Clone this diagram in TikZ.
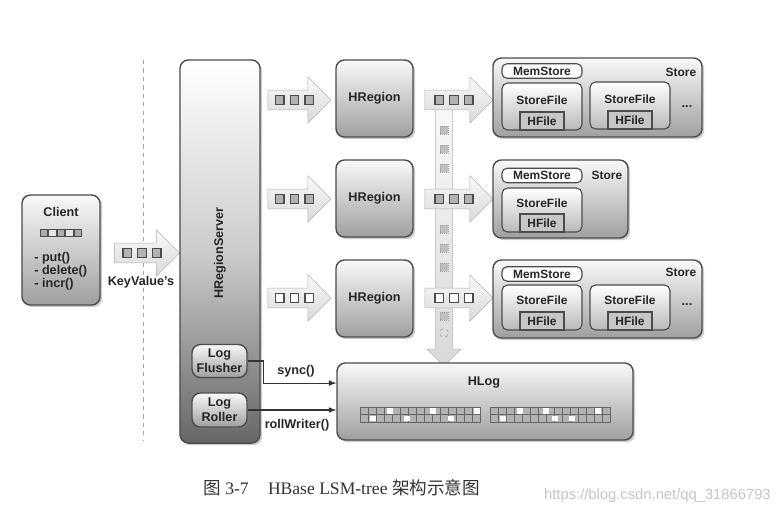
\documentclass[tikz,border=0pt]{standalone}
\usepackage{fontspec}
\setmainfont{Liberation Serif}
\setsansfont{Liberation Sans}
\newfontfamily\cjk{Noto Sans CJK SC}
\usetikzlibrary{shapes.arrows,shadows}

\newcommand{\kvsq}[1]{{\setlength{\fboxsep}{0pt}\setlength{\fboxrule}{1pt}\fcolorbox{black!70}{#1}{\rule{0pt}{5pt}\rule{5pt}{0pt}}}}
\newcommand{\kvrow}[1]{\kvsq{#1}\hspace{3.5pt}\kvsq{#1}\hspace{3.5pt}\kvsq{#1}}
\newcommand{\cbsq}[1]{{\setlength{\fboxsep}{0pt}\setlength{\fboxrule}{0.8pt}\fcolorbox{black!70}{#1}{\rule{0pt}{4.5pt}\rule{4.5pt}{0pt}}}}

\begin{document}
\begin{tikzpicture}[x=0.025cm, y=-0.025cm]
        \tikzstyle{every node}=[font=\sffamily\bfseries\fontsize{9}{10.5}\selectfont, text=black!85, inner sep=0pt]
        \tikzstyle{box}=[rectangle, rounded corners=6pt, draw=black!70, line width=1pt, drop shadow={opacity=0.4, shadow xshift=1.5pt, shadow yshift=-1.5pt}]
        \tikzstyle{grad}=[top color=gray!5, bottom color=gray!75]
        \tikzstyle{fat}=[single arrow, draw=gray!60, top color=gray!4, bottom color=gray!30, single arrow head extend=0.27cm, minimum width=1.15cm, inner sep=2pt]
        \tikzstyle{small}=[font=\sffamily\bfseries\fontsize{8.5}{9}\selectfont]
        \tikzstyle{memstore}=[small, rectangle, rounded corners=3.5pt, draw=black!70, line width=0.8pt, fill=white, minimum width=2cm, minimum height=0.36cm]
        \tikzstyle{sfile}=[rectangle, rounded corners=4pt, draw=black!70, line width=0.8pt, top color=white, bottom color=gray!55, minimum width=2cm]
        \tikzstyle{hfile}=[small, rectangle, draw=black!70, line width=0.8pt, fill=gray!45, minimum width=1.1cm, minimum height=0.45cm, anchor=south]
        \tikzstyle{bandsq}=[rectangle, minimum size=0.2cm, fill=gray!50, draw=gray!75, densely dotted]
        \tikzstyle{conn}=[-latex, draw=black!80, line width=0.8pt]

        \fill[white] (0,0) rectangle (779,514);
        \useasboundingbox (0,0) rectangle (779,514);

        \coordinate (dtop) at (143,60);
        \coordinate (dbot) at (143,440);
        \draw[gray!70, line width=0.7pt, dash pattern=on 3pt off 3pt] (dtop) -- (dbot);

        \node[box, grad, minimum width=1.95cm, minimum height=2.75cm] (client) at (61,250) {};
        \node (clienttitle) at (61,212) {Client};
        \node (clientbar) at (61,233) {\cbsq{gray!65}\cbsq{gray!20}\cbsq{gray!65}\cbsq{gray!20}\cbsq{gray!65}};
        \node[anchor=west, align=left, font=\sffamily\bfseries\fontsize{9}{9.4}\selectfont] (clientops) at (34,271) {- put()\\- delete()\\- incr()};

        \node[fat, minimum height=1.625cm] (kv) at (142,253) {\kvrow{gray!60}};
        \node (kvlabel) at (141,282) {KeyValue's};

        \node[box, top color=white, bottom color=black!60, middle color=gray!40, minimum width=2cm, minimum height=9.575cm] (hrs) at (220,251.5) {};
        \node[rotate=90] (hrslabel) at (220,253) {HRegionServer};
        \node[box, grad, align=center, minimum width=1.375cm, minimum height=0.825cm] (flusher) at (219.5,361) {Log\\Flusher};
        \node[box, grad, align=center, minimum width=1.375cm, minimum height=0.85cm] (roller) at (219.5,410) {Log\\Roller};

        \node[fat, minimum height=1.575cm] (la1) at (294.5,100) {\kvrow{gray!60}};
        \node[fat, minimum height=1.575cm] (la2) at (294.5,199) {\kvrow{gray!60}};
        \node[fat, minimum height=1.575cm] (la3) at (294.5,298) {\kvrow{white}};

        \node[box, grad, minimum size=1.925cm] (hr1) at (374.5,98.5) {HRegion};
        \node[box, grad, minimum size=1.925cm] (hr2) at (374.5,198.5) {HRegion};
        \node[box, grad, minimum size=1.925cm] (hr3) at (374.5,298.5) {HRegion};

        \node[fat, rotate=-90, minimum height=6.85cm, minimum width=0.85cm, single arrow head extend=0.08cm] (band) at (444,225) {};
        \node[fat, minimum height=1.7cm] (ra1) at (454,100) {\kvrow{gray!60}};
        \node[fat, minimum height=1.7cm] (ra2) at (454,199) {\kvrow{gray!60}};
        \node[fat, minimum height=1.7cm] (ra3) at (454,298) {\kvrow{white}};
        \node[bandsq] (d1) at (444,130) {};
        \node[bandsq] (d2) at (444,149) {};
        \node[bandsq] (d3) at (444,168) {};
        \node[bandsq] (d4) at (444,229) {};
        \node[bandsq] (d5) at (444,248) {};
        \node[bandsq] (d6) at (444,267) {};
        \node[bandsq] (d7) at (444,316) {};
        \node[circle, minimum size=0.22cm, draw=gray!70, densely dashed] (d8) at (444,333) {};

        \node[box, grad, minimum width=5.225cm, minimum height=1.975cm] (st1) at (597.5,97.5) {};
        \node[memstore] (ms1) at (542,71) {MemStore};
        \node[small] (st1label) at (681,72) {Store};
        \node[sfile, minimum height=1.175cm] (sf11) at (542,106.5) {};
        \node[small] (sf11label) at (542,100) {StoreFile};
        \node[hfile] (hf11) at (sf11.south) {HFile};
        \node[sfile, minimum height=1.175cm] (sf12) at (630,105.5) {};
        \node[small] (sf12label) at (630,99) {StoreFile};
        \node[hfile] (hf12) at (sf12.south) {HFile};
        \node (more1) at (687,107) {...};

        \node[box, grad, minimum width=3.375cm, minimum height=1.95cm] (st2) at (560.5,199) {};
        \node[memstore] (ms2) at (542,175.5) {MemStore};
        \node[small] (st2label) at (607,175) {Store};
        \node[sfile, minimum height=1.1cm] (sf21) at (542,210) {};
        \node[small] (sf21label) at (542,203) {StoreFile};
        \node[hfile] (hf21) at (sf21.south) {HFile};

        \node[box, grad, minimum width=5.225cm, minimum height=1.95cm] (st3) at (597.5,299) {};
        \node[memstore] (ms3) at (542,274) {MemStore};
        \node[small] (st3label) at (681,272) {Store};
        \node[sfile, minimum height=1.125cm] (sf31) at (542,307.5) {};
        \node[small] (sf31label) at (542,300) {StoreFile};
        \node[hfile] (hf31) at (sf31.south) {HFile};
        \node[sfile, minimum height=1.125cm] (sf32) at (630,307.5) {};
        \node[small] (sf32label) at (630,300) {StoreFile};
        \node[hfile] (hf32) at (sf32.south) {HFile};
        \node (more3) at (687,305) {...};

        \node[box, grad, minimum width=7.4cm, minimum height=1.925cm] (hlog) at (485,401.5) {};
        \node (hloglabel) at (484,382) {HLog};
        \foreach \i in {0,...,14} {
            \draw[draw=black!60, fill=gray!60, line width=0.5pt] (360+\i*8,407) rectangle +(8,7.5);
            \draw[draw=black!60, fill=gray!60, line width=0.5pt] (360+\i*8,414.5) rectangle +(8,7.5);
            \draw[draw=black!60, fill=gray!60, line width=0.5pt] (490+\i*8,407) rectangle +(8,7.5);
            \draw[draw=black!60, fill=gray!60, line width=0.5pt] (490+\i*8,414.5) rectangle +(8,7.5);
        }
        \foreach \c/\r in {1/1, 3/0, 5/1, 8/0, 10/1, 13/0, 16/1, 18/0, 21/0, 22/1, 24/1, 27/0} {
            \fill[white] (361+\c*8+\c/15*10,408+\r*7.5) rectangle +(6,5.5);
        }

        \draw[conn] (flusher.east) -- ++(16,0) |- ([yshift=0.46cm]hlog.west);
        \draw[conn] (roller.east) -- (roller.east -| hlog.west);
        \node (synclabel) at (296,371) {sync()};
        \node (rolllabel) at (297,425) {rollWriter()};

        \node[anchor=west, font=\normalfont\rmfamily\fontsize{12.5}{14}\selectfont, text=black!80] (caption) at (203,488) {{\cjk 图}~3-7\hspace{1.1em}HBase LSM-tree {\cjk 架构示意图}};
        \node[anchor=east, font=\normalfont\sffamily\fontsize{10.5}{12}\selectfont, text=gray!45] (mark) at (771,496) {https://blog.csdn.net/qq\_31866793};
    \end{tikzpicture}
\end{document}
